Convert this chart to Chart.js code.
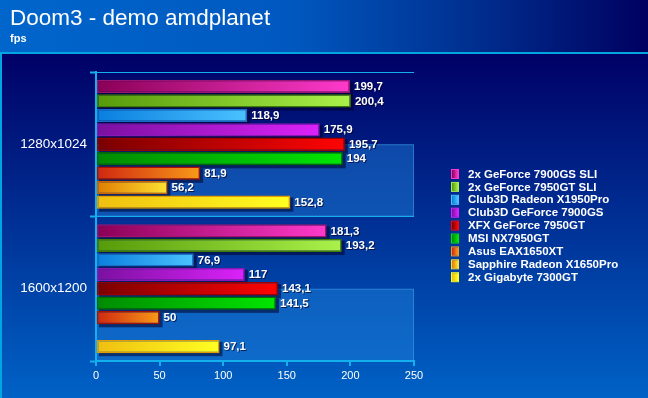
<!DOCTYPE html>
<html>
<head>
<meta charset="utf-8">
<title>Doom3 - demo amdplanet</title>
<script src="https://cdn.jsdelivr.net/npm/chart.js@4.4.1/dist/chart.umd.min.js"></script>
<style>
  html, body { margin: 0; padding: 0; background: #000066; overflow: hidden; }
  #wrap { width: 648px; height: 398px; }
</style>
</head>
<body>
<div id="wrap"><canvas id="chart" width="648" height="398"></canvas></div>
<script>
// ---- data ----
const categories = ['1280x1024', '1600x1200'];
const seriesNames = [
  '2x GeForce 7900GS SLI',
  '2x GeForce 7950GT SLI',
  'Club3D Radeon X1950Pro',
  'Club3D GeForce 7900GS',
  'XFX GeForce 7950GT',
  'MSI NX7950GT',
  'Asus EAX1650XT',
  'Sapphire Radeon X1650Pro',
  '2x Gigabyte 7300GT'
];
const gf7900gsSli = [199.7, 181.3];
const gf7950gtSli = [200.4, 193.2];
const club3dX1950 = [118.9, 76.9];
const club3d7900gs = [175.9, 117];
const xfx7950gt = [195.7, 143.1];
const msi7950gt = [194, 141.5];
const asus1650xt = [81.9, 50];
const sapphire1650 = [56.2, null];
const giga7300gt = [152.8, 97.1];
const xTicks = [0, 50, 100, 150, 200, 250];

const seriesValues = [gf7900gsSli, gf7950gtSli, club3dX1950, club3d7900gs,
  xfx7950gt, msi7950gt, asus1650xt, sapphire1650, giga7300gt];

// ---- styles (dark -> light gradient, border) ----
const barStyles = [
  { dark: '#8a0056', light: '#ff3acb', border: '#9c1470' },
  { dark: '#569a0a', light: '#aaf24a', border: '#3e7a06' },
  { dark: '#0a7ede', light: '#4ac2ff', border: '#1a6cc4' },
  { dark: '#7a10a0', light: '#dc22fa', border: '#8a18b4' },
  { dark: '#7a0000', light: '#ff0404', border: '#9a0000' },
  { dark: '#008a00', light: '#00e600', border: '#006a00' },
  { dark: '#d02610', light: '#f89a18', border: '#a81000' },
  { dark: '#e07c00', light: '#ffe232', border: '#d06400' },
  { dark: '#f0be10', light: '#ffff22', border: '#e09c00' }
];
const cyan = '#14b0ee';
const fontFamily = '"Liberation Sans", Arial, sans-serif';

function barFill(c, st) {
  const chart = c.chart;
  if (c.type !== 'data' || !chart.chartArea || !chart.scales.x) return st.light;
  const xs = chart.scales.x;
  const x0 = xs.getPixelForValue(0);
  const x1 = xs.getPixelForValue(c.parsed.x);
  if (!isFinite(x1) || x1 <= x0 + 1) return st.light;
  const g = chart.ctx.createLinearGradient(x0, 0, x1, 0);
  g.addColorStop(0, st.dark);
  g.addColorStop(1, st.light);
  return g;
}

const fmt = v => String(v).replace('.', ',');

// background, header and light bands in the plot
const backdrop = {
  id: 'backdrop',
  beforeDraw(chart) {
    const { ctx, width, height, chartArea: a, scales: { y } } = chart;
    ctx.save();
    let g = ctx.createLinearGradient(0, 53, 0, height);
    g.addColorStop(0, '#000066');
    g.addColorStop(1, '#0062c6');
    ctx.fillStyle = g;
    ctx.fillRect(0, 53, width, height - 53);

    g = ctx.createLinearGradient(0, 0, width, 0);
    g.addColorStop(0, '#0066cc');
    g.addColorStop(0.45, '#0058bf');
    g.addColorStop(0.75, '#002c8c');
    g.addColorStop(1, '#000060');
    ctx.fillStyle = g;
    ctx.fillRect(0, 0, width, 53);

    ctx.fillStyle = '#00a6e2';
    ctx.fillRect(0, 52, width, 2);
    ctx.fillRect(0, 53, 2, height - 53);

    categories.forEach((c, i) => {
      const top = y.getPixelForValue(i);
      const bot = y.getPixelForValue(i + 0.5);
      ctx.fillStyle = 'rgba(30,130,220,0.45)';
      ctx.fillRect(a.left, top, a.right - a.left, bot - top);
      ctx.strokeStyle = 'rgba(70,170,240,0.45)';
      ctx.lineWidth = 1;
      ctx.strokeRect(a.left + 0.5, top + 0.5, a.right - a.left - 1, bot - top - 1);
    });
    ctx.restore();
  }
};

// drop shadows under the bars
const barShadows = {
  id: 'barShadows',
  beforeDatasetsDraw(chart) {
    const ctx = chart.ctx;
    ctx.save();
    ctx.fillStyle = 'rgba(0,0,40,0.55)';
    chart.data.datasets.forEach((ds, i) => {
      chart.getDatasetMeta(i).data.forEach((bar, j) => {
        if (ds.data[j] == null) return;
        const { x, y, base, height } = bar.getProps(['x', 'y', 'base', 'height'], true);
        ctx.fillRect(base + 2, y - height / 2 + 2, x - base + 1, height + 1);
      });
    });
    ctx.restore();
  }
};

// value labels at the end of each bar
const valueLabels = {
  id: 'valueLabels',
  afterDatasetsDraw(chart) {
    const ctx = chart.ctx;
    ctx.save();
    ctx.font = 'bold 11.5px ' + fontFamily;
    ctx.textBaseline = 'middle';
    ctx.textAlign = 'left';
    chart.data.datasets.forEach((ds, i) => {
      chart.getDatasetMeta(i).data.forEach((bar, j) => {
        const v = ds.data[j];
        if (v == null) return;
        const { x, y } = bar.getProps(['x', 'y'], true);
        ctx.fillStyle = 'rgba(0,0,40,0.7)';
        ctx.fillText(fmt(v), x + 5, y + 1.5);
        ctx.fillStyle = '#ffffff';
        ctx.fillText(fmt(v), x + 4, y + 0.5);
      });
    });
    ctx.restore();
  }
};

// legend on the right
const sideLegend = {
  id: 'sideLegend',
  afterDraw(chart) {
    const ctx = chart.ctx;
    ctx.save();
    ctx.font = 'bold 11.5px ' + fontFamily;
    ctx.textBaseline = 'middle';
    chart.data.datasets.forEach((ds, i) => {
      const st = barStyles[i];
      const cy = 174 + i * 12.9;
      const g = ctx.createLinearGradient(452, 0, 458, 0);
      g.addColorStop(0, st.dark);
      g.addColorStop(1, st.light);
      ctx.fillStyle = g;
      ctx.fillRect(452, cy - 4, 6, 8);
      ctx.strokeStyle = st.light;
      ctx.lineWidth = 1;
      ctx.strokeRect(451.5, cy - 4.5, 7, 9);
      ctx.fillStyle = '#ffffff';
      ctx.fillText(ds.label, 468, cy + 0.5);
    });
    ctx.restore();
  }
};

class DoomChart {
  constructor() {
    this.canvas = document.getElementById('chart');
    this.render();
  }

  buildDatasets() {
    return seriesNames.map((name, i) => ({
      label: name,
      data: seriesValues[i],
      backgroundColor: c => barFill(c, barStyles[i]),
      borderColor: barStyles[i].border,
      borderWidth: 1.5,
      borderSkipped: false,
      barPercentage: 0.92,
      categoryPercentage: 0.9
    }));
  }

  render() {
    new Chart(this.canvas, {
      type: 'bar',
      data: { labels: categories, datasets: this.buildDatasets() },
      plugins: [backdrop, barShadows, valueLabels, sideLegend],
      options: {
        indexAxis: 'y',
        responsive: false,
        animation: false,
        devicePixelRatio: 1,
        events: [],
        layout: { padding: { left: 10, right: 234, top: 0, bottom: 0 } },
        plugins: {
          legend: { display: false },
          tooltip: { enabled: false },
          title: {
            display: true,
            text: 'Doom3 - demo amdplanet',
            align: 'start',
            color: '#ffffff',
            font: { family: fontFamily, size: 22.5, weight: 'normal', lineHeight: 1 },
            padding: { top: 8, bottom: 0 }
          },
          subtitle: {
            display: true,
            text: 'fps',
            align: 'start',
            color: '#ffffff',
            font: { family: fontFamily, size: 11, weight: 'bold', lineHeight: 1 },
            padding: { top: 2.5, bottom: 28 }
          }
        },
        scales: {
          x: {
            type: 'linear',
            position: 'bottom',
            min: 0,
            max: 250,
            afterBuildTicks: s => { s.ticks = xTicks.map(v => ({ value: v })); },
            afterFit: s => { s.height = 37; },
            grid: { drawOnChartArea: false, drawTicks: true, tickLength: 5, color: cyan, lineWidth: 2 },
            border: { display: true, color: cyan, width: 2 },
            ticks: { color: '#ffffff', font: { family: fontFamily, size: 11 }, padding: 3 }
          },
          y: {
            type: 'category',
            afterFit: s => { s.width = 86; },
            grid: { offset: true, color: cyan, lineWidth: 1, tickLength: 6, tickWidth: 2, tickColor: cyan },
            border: { display: true, color: cyan, width: 2 },
            ticks: { color: '#ffffff', font: { family: fontFamily, size: 13.5 }, padding: 3 }
          }
        }
      }
    });
  }
}

document.addEventListener('DOMContentLoaded', () => {
  new DoomChart();
});
</script>
</body>
</html>
